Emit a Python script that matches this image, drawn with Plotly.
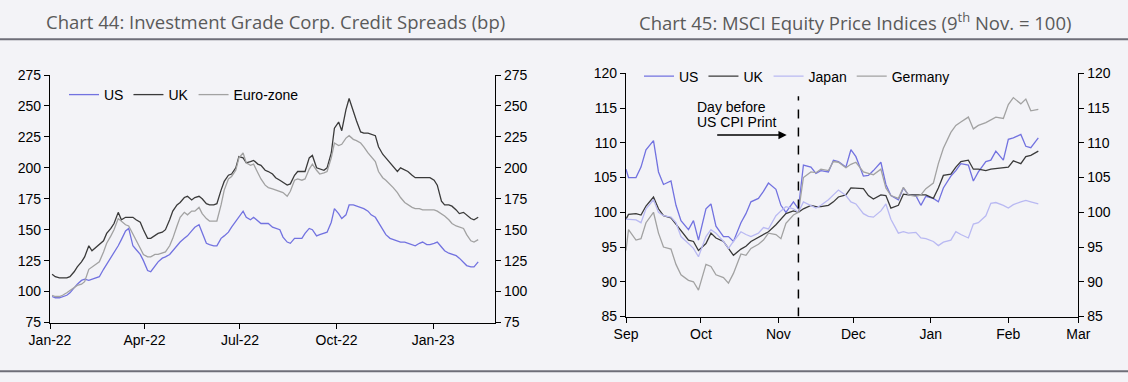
import pandas as pd
import plotly.graph_objects as go

W, H = 1128, 382

# ---------------- Chart 44 data (Investment grade corporate credit spreads, bp) ----------------
spread_dates = sorted(
    list(pd.date_range("2022-01-03", "2023-02-13", freq="W-MON"))
    + list(pd.date_range("2022-01-06", "2023-02-09", freq="W-THU"))
)

spread_uk = [
    114, 112, 111, 111, 111, 112, 116, 120, 124, 128, 137, 133, 136, 138, 141, 147, 151, 155, 164, 158,
    160, 160, 160, 158, 156, 150, 143, 143, 145, 147, 148, 150, 158, 165, 170, 172, 176, 177, 174, 176,
    177, 175, 171, 170, 170, 171, 182, 189, 194, 195, 200, 209, 208, 204, 205, 206, 203, 202, 198, 197,
    195, 192, 190, 188, 186, 187, 194, 197, 197, 197, 208, 210, 200, 199, 198, 200, 212, 232, 237, 230,
    247, 256, 245, 238, 229, 228, 228, 227, 226, 217, 211, 208, 204, 201, 197, 200, 198, 197, 194, 192,
    192, 192, 192, 192, 190, 186, 173, 170, 170, 169, 166, 163, 164, 162, 159, 158, 160,
]
spread_ez = [
    97, 96, 96, 97, 99, 101, 103, 105, 106, 108, 118, 120, 122, 124, 132, 139, 145, 150, 159, 157,
    154, 153, 146, 142, 135, 130, 128, 128, 130, 130, 131, 132, 137, 143, 153, 160, 164, 162, 165, 165,
    168, 163, 159, 157, 157, 157, 170, 182, 191, 193, 198, 208, 212, 204, 202, 203, 196, 191, 186, 184,
    183, 182, 181, 180, 177, 181, 190, 191, 190, 191, 199, 203, 198, 195, 196, 197, 208, 220, 218, 219,
    224, 226, 223, 222, 220, 217, 212, 209, 205, 197, 192, 190, 187, 184, 180, 176, 172, 170, 168, 167,
    167, 166, 166, 166, 166, 165, 163, 161, 158, 155, 153, 152, 151, 146, 141, 140, 142,
]
spread_us = [
    96, 95, 95, 96, 97, 99, 103, 106, 109, 110, 109, 110, 111, 112, 118, 122, 127, 131, 137, 142,
    149, 151, 137, 134, 130, 125, 117, 116, 121, 124, 127, 128, 130, 133, 137, 140, 143, 145, 149, 152,
    154, 147, 139, 138, 137, 137, 143, 145, 148, 152, 157, 161, 165, 160, 158, 160, 157, 155, 155, 155,
    152, 151, 150, 144, 140, 139, 143, 143, 143, 147, 151, 150, 145, 146, 147, 148, 156, 167, 163, 159,
    162, 170, 170, 169, 168, 167, 165, 162, 160, 156, 150, 146, 143, 142, 141, 140, 140, 139, 138, 137,
    139, 140, 138, 138, 139, 140, 136, 133, 131, 130, 129, 127, 124, 121, 120, 120, 124,
]

# ---------------- Chart 45 data (MSCI equity price indices, 9 Nov = 100) ----------------
_bd = pd.bdate_range("2022-09-02", "2023-02-13")
eq_dates = [pd.Timestamp("2022-09-01")] + [d for d in _bd if d.weekday() in (0, 2, 4)]

eq_us = [
    106.2, 105.0, 105.0, 106.5, 109.0, 110.3, 105.8, 104.0, 104.5, 101.0, 98.8, 97.5, 98.8, 96.0,
    100.5, 101.2, 98.0, 96.5, 96.5, 95.8, 98.5, 99.8, 101.5, 102.0, 103.0, 104.2, 103.3,
    101.0, 100.0, 101.5, 100.5, 106.8, 106.5, 105.6, 106.0, 105.8, 107.5, 107.3, 106.5, 109.0,
    108.0, 105.2, 105.3, 106.0, 107.2, 104.0, 102.4, 101.8, 103.5, 102.5, 102.4, 101.0, 102.3,
    102.0, 101.5, 103.5, 105.2, 106.0, 107.0, 106.8, 104.5, 105.8, 107.3, 107.5, 108.8, 107.5,
    110.5, 110.7, 111.2, 109.5, 109.3, 110.7,
]
eq_uk = [
    99.0, 99.7, 99.8, 99.6, 100.9, 102.2, 100.5, 99.5, 99.2, 98.3, 97.5, 96.0, 95.8, 94.5,
    95.5, 97.0, 96.3, 95.8, 94.8, 93.8, 94.7, 95.1, 95.8, 96.4, 96.8, 97.2, 98.2,
    99.0, 99.8, 100.2, 100.0, 100.5, 101.0, 100.8, 100.8, 101.0, 101.5, 102.2, 102.5, 103.5,
    103.5, 103.4, 102.4, 101.9, 102.5, 102.4, 100.6, 101.0, 102.6, 102.5, 102.5, 102.5, 102.5,
    102.0, 103.5, 105.3, 105.5, 106.5, 107.3, 107.5, 106.2, 106.2, 106.0, 106.2, 106.3, 106.5,
    106.5, 107.4, 107.0, 108.0, 108.2, 108.8,
]
eq_japan = [
    99.0, 99.0, 98.9, 98.5, 100.5, 101.8, 100.0, 99.5, 99.3, 98.5, 96.5, 95.5, 94.8, 93.6,
    96.5, 97.5, 97.0, 95.8, 94.8, 95.8, 97.2, 96.8, 96.5, 97.0, 97.8, 97.6, 99.5,
    100.2, 100.8, 100.5, 100.0, 101.5, 101.0, 100.6, 101.0, 101.8, 102.5, 103.2, 102.4, 101.5,
    101.2, 99.8, 99.4, 99.3, 100.2, 101.2, 99.0, 97.0, 97.2, 97.0, 97.1, 96.3, 96.2,
    95.8, 95.2, 95.7, 96.0, 97.2, 96.8, 96.3, 98.3, 98.5, 99.5, 101.3, 101.4, 101.0,
    100.6, 101.1, 101.5, 101.7, 101.5, 101.2,
]
eq_germany = [
    94.5, 97.5, 96.0, 96.2, 98.5, 100.0, 97.0, 95.0, 94.7, 92.5, 91.0, 90.2, 90.0, 88.8,
    92.5, 92.2, 91.0, 90.6, 89.8, 91.2, 94.0, 93.8, 94.8, 95.4, 96.0, 97.0, 96.8,
    96.2, 98.4, 99.6, 100.0, 105.0, 105.8, 105.7, 106.2, 106.0, 107.3, 107.2, 106.4, 106.9,
    107.2, 105.8, 105.6, 105.4, 106.2, 103.5, 102.4, 102.0, 103.6, 102.5, 102.3, 102.5, 103.4,
    104.2, 107.0, 109.2, 111.5, 112.5, 113.0, 113.7, 112.0, 112.5, 112.9, 113.3, 113.7, 113.5,
    115.5, 116.5, 115.6, 116.3, 114.6, 114.8,
]

cpi_marker_date = "2022-11-09"

# ---------------- styling ----------------
BG = "#f3f3f7"
C_US = "#7272e0"
C_UK = "#3a3a3a"
C_GREY = "#a2a2a2"
C_JP = "#b9b9f2"
AX_FONT = dict(family="Liberation Sans, Arial, sans-serif", size=14, color="#000000")
TITLE_FONT = dict(family="Open Sans, Noto Sans, sans-serif", size=18.5, color="#5a5a5a", weight=400)


def px_x(p):
    return p / W


def px_y(p):
    return 1 - p / H


fig = go.Figure()

# left chart
for name, vals, col in [("US", spread_us, C_US), ("UK", spread_uk, C_UK), ("Euro-zone", spread_ez, C_GREY)]:
    fig.add_trace(go.Scatter(x=spread_dates, y=vals, name=name, mode="lines",
                             line=dict(color=col, width=1.3), xaxis="x", yaxis="y", legend="legend"))
fig.add_trace(go.Scatter(x=spread_dates, y=spread_us, mode="lines", line=dict(width=0), opacity=0,
                         showlegend=False, hoverinfo="skip", xaxis="x", yaxis="y3"))

# right chart
for name, vals, col in [("US", eq_us, C_US), ("UK", eq_uk, C_UK), ("Japan", eq_japan, C_JP),
                        ("Germany", eq_germany, C_GREY)]:
    fig.add_trace(go.Scatter(x=eq_dates, y=vals, name=name, mode="lines",
                             line=dict(color=col, width=1.3), xaxis="x2", yaxis="y2", legend="legend2"))
fig.add_trace(go.Scatter(x=eq_dates, y=eq_us, mode="lines", line=dict(width=0), opacity=0,
                         showlegend=False, hoverinfo="skip", xaxis="x2", yaxis="y4"))

axis_common = dict(showgrid=False, zeroline=False, showline=True, linecolor="#000000", linewidth=1.3,
                   ticks="outside", ticklen=5, tickwidth=1.3, tickcolor="#000000", tickfont=AX_FONT,
                   automargin=False)

L_dom_x = [px_x(50), px_x(495)]
L_dom_y = [px_y(322.5), px_y(75)]
R_dom_x = [px_x(626), px_x(1078.3)]
R_dom_y = [px_y(316.5), px_y(73.3)]

fig.update_layout(
    width=W, height=H, margin=dict(l=0, r=0, t=0, b=0, autoexpand=False),
    paper_bgcolor=BG, plot_bgcolor=BG,
    xaxis=dict(domain=L_dom_x, anchor="y", type="date", range=["2022-01-01", "2023-03-01"],
               tick0="2022-01-01", dtick="M3", tickformat="%b-%y", **axis_common),
    yaxis=dict(domain=L_dom_y, anchor="x", range=[75, 275], tick0=75, dtick=25, **axis_common),
    yaxis3=dict(overlaying="y", side="right", anchor="x", range=[75, 275], tick0=75, dtick=25, **axis_common),
    xaxis2=dict(domain=R_dom_x, anchor="y2", type="date", range=["2022-09-01", "2023-03-01"],
                tick0="2022-09-01", dtick="M1", tickformat="%b", **axis_common),
    yaxis2=dict(domain=R_dom_y, anchor="x2", range=[85, 120], tick0=85, dtick=5, **axis_common),
    yaxis4=dict(overlaying="y2", side="right", anchor="x2", range=[85, 120], tick0=85, dtick=5, **axis_common),
    legend=dict(orientation="h", x=px_x(64), y=px_y(95), xanchor="left", yanchor="middle",
                bgcolor="rgba(0,0,0,0)", font=AX_FONT, itemwidth=30, tracegroupgap=0),
    legend2=dict(orientation="h", x=px_x(639), y=px_y(76.5), xanchor="left", yanchor="middle",
                 bgcolor="rgba(0,0,0,0)", font=AX_FONT, itemwidth=30, tracegroupgap=0),
    showlegend=True,
)

# header / footer rules
for yy in (39.3, 371.3):
    fig.add_shape(type="line", xref="paper", yref="paper", x0=0, x1=1, y0=px_y(yy), y1=px_y(yy),
                  line=dict(color="#6e6e78", width=2))

# titles
fig.add_annotation(text="Chart 44: Investment Grade Corp. Credit Spreads (bp)", xref="paper", yref="paper",
                   x=px_x(275), y=px_y(21), xanchor="center", yanchor="middle", showarrow=False, font=TITLE_FONT)
fig.add_annotation(text="Chart 45: MSCI Equity Price Indices (9<sup>th</sup> Nov. = 100)", xref="paper",
                   yref="paper", x=px_x(855), y=px_y(21), xanchor="center", yanchor="middle", showarrow=False,
                   font=TITLE_FONT)

# CPI marker
fig.add_shape(type="line", xref="x2", yref="y2", x0=cpi_marker_date, x1=cpi_marker_date, y0=85, y1=116.7,
              line=dict(color="#000000", width=1.5, dash="dash"))
fig.add_annotation(text="Day before", xref="paper", yref="paper", x=px_x(695), y=px_y(106.7),
                   xanchor="left", yanchor="middle", showarrow=False, font=AX_FONT)
fig.add_annotation(text="US CPI Print", xref="paper", yref="paper", x=px_x(695), y=px_y(122.3),
                   xanchor="left", yanchor="middle", showarrow=False, font=AX_FONT)
fig.add_annotation(text="", xref="paper", yref="paper", x=px_x(786.7), y=px_y(135), ax=-71, ay=0,
                   showarrow=True, arrowhead=2, arrowsize=1.1, arrowwidth=1.5, arrowcolor="#000000")

fig.write_html("out.html",
               config={"displayModeBar": False},
               post_script="document.body.style.margin='0';document.body.style.padding='0';"
                           "document.body.style.background='" + BG + "';")
